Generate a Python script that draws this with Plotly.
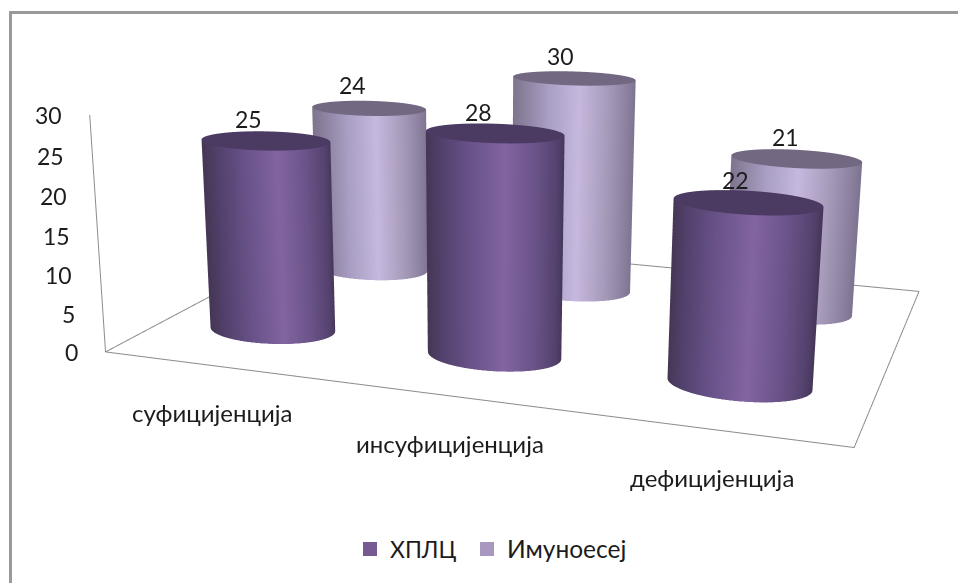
import numpy as np
import plotly.graph_objects as go

categories = ["суфицијенција", "инсуфицијенција", "дефицијенција"]
series_names = ["ХПЛЦ", "Имуноесеј"]
hplc = [25, 28, 22]
imuno = [24, 30, 21]
z_ticks = [0, 5, 10, 15, 20, 25, 30]

W, VIEW_H = 958, 583
# The scene is taller than the window so that its fixed field of view gives a long lens;
# the page is scrolled by SHIFT to keep the optical centre in the middle of the window.
PLOT_H = 1359
SHIFT = (PLOT_H - VIEW_H) / 2
F = (PLOT_H / 2) / np.tan(np.pi / 8)
FONT = "Lato"
INK = "#1c1c1c"

EYE = np.array([0.7121, -2.1437, 0.5356])
CENTER = np.array([-0.0879, -0.0017, -0.128])
UP = np.array([-0.0083, 0.0265, 1.0])
ASPECT_Y, ASPECT_Z = 0.6872, 0.3241
RADIUS = 0.0925      # cylinder radius along the category axis, in scene units
FLATTEN = 0.71       # cylinders are elliptical: shallower along the series axis
X_OFFSET = -0.008    # cylinders sit a touch left of the category centres

HPLC_SIDE = [[0, "#463756"], [0.08, "#50406a"], [0.25, "#655085"], [0.52, "#8264a1"], [0.75, "#6a5388"], [0.92, "#54426e"], [1, "#443555"]]
IMUNO_SIDE = [[0, "#80758f"], [0.25, "#a89dc2"], [0.5, "#c6b8de"], [0.75, "#a599b8"], [1, "#7d7290"]]
CAP = ["#4b3a62", "#726882"]
LEGEND_COLORS = ["#775a92", "#a898bf"]
LINE = "#8c8c8c"

# Where the text is centred in the window
value_label_px = [[[248, 119], [478, 112], [735, 180]], [[352, 85], [560, 56], [785, 137]]]
category_label_px = [[213, 413], [450, 444], [712, 477]]

fw = (CENTER - EYE) / np.linalg.norm(CENTER - EYE)
side = np.cross(fw, UP)
side = side / np.linalg.norm(side)
upc = np.cross(side, fw)


def to_scene(x, y, z):
    return np.array([(x / 3 - 0.5), (y / 2 - 0.5) * ASPECT_Y, (z / 30 - 0.5) * ASPECT_Z])


def to_window(x, y, z):
    d = to_scene(x, y, z) - EYE
    depth = d @ fw
    return W / 2 + F * (d @ side) / depth, VIEW_H / 2 - F * (d @ upc) / depth


def px_y(py):
    return 1 - (py + SHIFT) / PLOT_H


fig = go.Figure()
th = np.linspace(0, 2 * np.pi, 181)
flat = dict(ambient=1, diffuse=0, specular=0, fresnel=0, roughness=1)
rx = RADIUS * 3
ry = RADIUS * FLATTEN * 2 / ASPECT_Y
anns = []

for j, values in enumerate([hplc, imuno]):
    for k, top in enumerate(values):
        xc, yc = k + 0.5 + X_OFFSET, j + 0.5
        view = EYE - to_scene(xc, yc, top / 2)
        right = np.array([-view[1], view[0]]) / np.hypot(view[0], view[1])
        right = -right if right @ side[:2] < 0 else right
        shade = np.cos(th) * right[0] + np.sin(th) * right[1]
        fig.add_trace(go.Surface(
            x=np.outer(xc + rx * np.cos(th), [1, 1]),
            y=np.outer(yc + ry * np.sin(th), [1, 1]),
            z=np.outer(np.ones_like(th), [0, top]),
            surfacecolor=np.outer(shade, [1, 1]), cmin=-1, cmax=1,
            colorscale=HPLC_SIDE if j == 0 else IMUNO_SIDE, showscale=False,
            lighting=flat, hoverinfo="skip", name=series_names[j]))
        ring = np.array([0, 1.0])
        fig.add_trace(go.Surface(
            x=xc + rx * np.outer(ring, np.cos(th)),
            y=yc + ry * np.outer(ring, np.sin(th)),
            z=top * np.ones((2, th.size)),
            surfacecolor=np.zeros((2, th.size)), cmin=0, cmax=1,
            colorscale=[[0, CAP[j]], [1, CAP[j]]], showscale=False, lighting=flat, hoverinfo="skip"))
        qx, qy = to_window(xc, yc, top)
        tx, ty = value_label_px[j][k]
        anns.append(dict(x=xc, y=yc, z=top, text=str(top), showarrow=False,
                         xshift=float(tx - qx), yshift=float(qy - ty),
                         font=dict(family=FONT, size=23, color=INK)))

# floor outline and the value axis
fig.add_trace(go.Scatter3d(x=[0, 3, 3, 0, 0, 0], y=[0, 0, 2, 2, 0, 0], z=[0, 0, 0, 0, 0, 30], mode="lines",
                           line=dict(color=LINE, width=2), hoverinfo="skip", showlegend=False))

# one legend per series so the two entries can be spaced freely
for name, col, leg in zip(series_names, LEGEND_COLORS, ["legend", "legend2"]):
    fig.add_trace(go.Scatter3d(x=[None], y=[None], z=[None], mode="markers", name=name, legend=leg,
                               marker=dict(symbol="square", size=14, color=col), hoverinfo="skip", showlegend=True))

for v in z_ticks:
    anns.append(dict(x=0, y=0, z=v, text=str(v), showarrow=False, xanchor="right", xshift=-26,
                     font=dict(family=FONT, size=23, color=INK)))
for k, lab in enumerate(categories):
    qx, qy = to_window(k + 0.5, 0, 0)
    tx, ty = category_label_px[k]
    anns.append(dict(x=k + 0.5, y=0, z=0, text=lab, showarrow=False, xshift=float(tx - qx), yshift=float(qy - ty),
                     font=dict(family=FONT, size=24, color=INK)))

no_axis = dict(showgrid=False, zeroline=False, showticklabels=False, showbackground=False, showspikes=False,
               showline=False, ticks="", title="", visible=True)
fig.update_layout(
    width=W, height=PLOT_H, margin=dict(l=0, r=0, t=0, b=0), paper_bgcolor="white",
    scene=dict(domain=dict(x=[0, 1], y=[0, 1]), aspectmode="manual",
               aspectratio=dict(x=1, y=ASPECT_Y, z=ASPECT_Z),
               xaxis=dict(range=[0, 3], **no_axis), yaxis=dict(range=[0, 2], **no_axis), zaxis=dict(range=[0, 30], **no_axis),
               camera=dict(eye=dict(x=EYE[0], y=EYE[1], z=EYE[2]), center=dict(x=CENTER[0], y=CENTER[1], z=CENTER[2]),
                           up=dict(x=UP[0], y=UP[1], z=UP[2])),
               annotations=anns),
    showlegend=True,
    legend=dict(orientation="h", x=350 / W, y=px_y(549), yanchor="middle", xanchor="left",
                font=dict(family=FONT, size=23, color=INK), itemclick=False),
    legend2=dict(orientation="h", x=467 / W, y=px_y(549), yanchor="middle", xanchor="left",
                 font=dict(family=FONT, size=24.5, color=INK), itemclick=False),
    shapes=[dict(type="rect", xref="paper", yref="paper", x0=10.5 / W, x1=1.02, y0=px_y(650), y1=px_y(12.5),
                 line=dict(color="#999999", width=3))],
)
fig.write_html("out.html", post_script=("var g=document.getElementById('{plot_id}');g.style.marginTop='-%dpx';"
                                        "document.documentElement.style.overflow='hidden';document.body.style.overflow='hidden';" % SHIFT))
